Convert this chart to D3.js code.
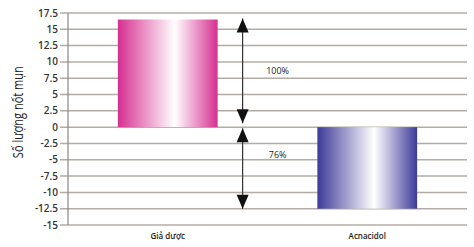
<!DOCTYPE html>
<html>
<head>
<meta charset="utf-8">
<script src="https://cdn.jsdelivr.net/npm/d3@7"></script>
<style>
  body { margin: 0; background: #fff; }
  svg { display: block; }
</style>
</head>
<body>
<div id="chart"></div>
<script>
// data
const categories = ["Giả dược", "Acnacidol"];
const values = [16.5, -12.5];
const tickValues = [17.5, 15, 12.5, 10, 7.5, 5, 2.5, 0, -2.5, -5, -7.5, -10, -12.5, -15];
const changeLabels = ["100%", "76%"];
const barColors = ["#d62f91", "#3d3a98"];

const width = 474, height = 247;
const svg = d3.select("#chart").append("svg")
    .attr("width", width)
    .attr("height", height);

const y = d3.scaleLinear().domain([-15, 17.5]).range([225, 13]);
const x = d3.scaleBand().domain(categories).range([68, 467])
    .paddingInner(0.5).paddingOuter(0.25);

// gradients: dark edges, white near the middle
const defs = svg.append("defs");
barColors.forEach((c, i) => {
    const g = defs.append("linearGradient")
        .attr("id", "grad" + i)
        .attr("x1", "0%").attr("x2", "100%").attr("y1", "0%").attr("y2", "0%");
    g.append("stop").attr("offset", "0%").attr("stop-color", c);
    g.append("stop").attr("offset", "57%").attr("stop-color", "#ffffff");
    g.append("stop").attr("offset", "100%").attr("stop-color", c);
});

// grid lines + tick marks
svg.append("g")
    .selectAll("line")
    .data(tickValues)
    .enter()
        .append("line")
        .attr("x1", 60)
        .attr("x2", 467)
        .attr("y1", d => y(d))
        .attr("y2", d => y(d))
        .attr("stroke", "#b3aca4")
        .attr("stroke-width", 1.5);

// y axis line
svg.append("line")
    .attr("x1", 68).attr("x2", 68)
    .attr("y1", y(17.5)).attr("y2", y(-15))
    .attr("stroke", "#8c8781")
    .attr("stroke-width", 1.2);

// tick labels
svg.append("g")
    .selectAll("text")
    .data(tickValues)
    .enter()
        .append("text")
        .attr("x", 58)
        .attr("y", d => y(d))
        .attr("dy", "0.35em")
        .attr("text-anchor", "end")
        .style("font-family", "'Open Sans', sans-serif")
        .style("font-size", "10px")
        .style("font-weight", 600)
        .style("fill", "#333")
        .text(d => d);

// bars
svg.append("g")
    .selectAll("rect")
    .data(values)
    .enter()
        .append("rect")
        .attr("x", (d, i) => x(categories[i]))
        .attr("width", x.bandwidth())
        .attr("y", d => y(Math.max(0, d)))
        .attr("height", d => Math.abs(y(d) - y(0)))
        .style("fill", (d, i) => "url(#grad" + i + ")");

// category labels
svg.append("g")
    .selectAll("text")
    .data(categories)
    .enter()
        .append("text")
        .attr("x", d => x(d) + x.bandwidth() / 2)
        .attr("y", 239)
        .attr("text-anchor", "middle")
        .style("font-family", "'Open Sans', sans-serif")
        .style("font-size", "8px")
        .style("font-weight", 600)
        .style("fill", "#222")
        .text(d => d);

// double arrows showing change
const ax = x(categories[0]) + x.bandwidth() + 25;
const spans = [[values[0], 0], [0, values[1]]];
const arrows = svg.append("g");
spans.forEach(([top, bottom]) => {
    const y1 = y(top) + (top === 0 ? 1 : -1);
    const y2 = y(bottom) + (bottom === 0 ? -4 : 0);
    arrows.append("line")
        .attr("x1", ax).attr("x2", ax)
        .attr("y1", y1).attr("y2", y2)
        .attr("stroke", "#333")
        .attr("stroke-width", 1.2);
    arrows.append("path")
        .attr("d", `M${ax},${y1} L${ax - 6},${y1 + 14} L${ax + 6},${y1 + 14} Z`)
        .attr("fill", "#111");
    arrows.append("path")
        .attr("d", `M${ax},${y2} L${ax - 6},${y2 - 14} L${ax + 6},${y2 - 14} Z`)
        .attr("fill", "#111");
});

// percentage labels
const labelPos = [8.7, -4.3];
svg.append("g")
    .selectAll("text")
    .data(changeLabels)
    .enter()
        .append("text")
        .attr("x", ax + 35)
        .attr("y", (d, i) => y(labelPos[i]))
        .attr("dy", "0.35em")
        .attr("text-anchor", "middle")
        .style("font-family", "'Open Sans', sans-serif")
        .style("font-size", "9px")
        .style("fill", "#222")
        .text(d => d);

// y axis title (narrow font in the original, so squeeze it a bit)
svg.append("text")
    .attr("transform", `translate(23, ${y(2.3)}) rotate(-90)`)
    .attr("text-anchor", "middle")
    .attr("textLength", 92)
    .attr("lengthAdjust", "spacingAndGlyphs")
    .style("font-family", "'Open Sans', sans-serif")
    .style("font-size", "15px")
    .style("fill", "#222")
    .text("Số lượng nốt mụn");
</script>
</body>
</html>
